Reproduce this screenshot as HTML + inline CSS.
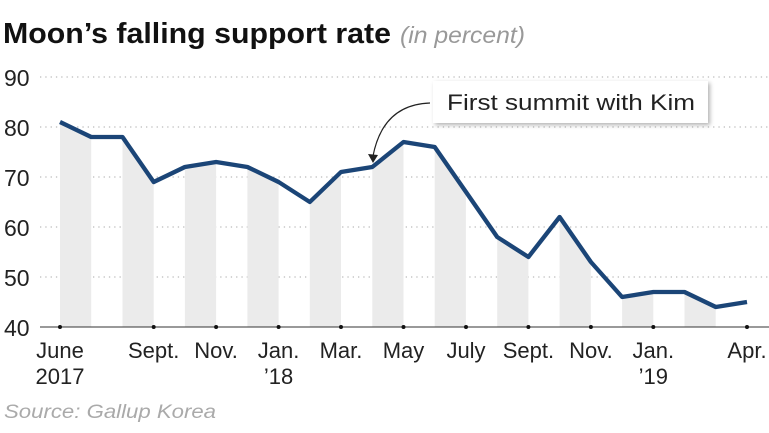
<!DOCTYPE html>
<html><head><style>
body{margin:0;background:#fff;}
svg{display:block;font-family:"Liberation Sans",sans-serif;}
</style></head><body>
<svg width="769" height="433" viewBox="0 0 769 433">
<defs>
<clipPath id="c">
<rect x="60" y="0" width="31.2" height="330"/><rect x="122.5" y="0" width="31.2" height="330"/>
<rect x="184.9" y="0" width="31.2" height="330"/><rect x="247.4" y="0" width="31.2" height="330"/>
<rect x="309.8" y="0" width="31.2" height="330"/><rect x="372.3" y="0" width="31.2" height="330"/>
<rect x="434.7" y="0" width="31.2" height="330"/><rect x="497.2" y="0" width="31.2" height="330"/>
<rect x="559.6" y="0" width="31.2" height="330"/><rect x="622.1" y="0" width="31.2" height="330"/>
<rect x="684.5" y="0" width="31.2" height="330"/>
</clipPath>
<filter id="sh" x="-10%" y="-20%" width="130%" height="160%"><feDropShadow dx="2" dy="2" stdDeviation="2" flood-color="#000" flood-opacity="0.3"/></filter>
</defs>
<text x="3" y="43" font-size="29" font-weight="bold" fill="#111" textLength="388" lengthAdjust="spacingAndGlyphs">Moon’s falling support rate</text>
<text x="400" y="43" font-size="23" font-style="italic" fill="#999" textLength="125" lengthAdjust="spacingAndGlyphs">(in percent)</text>
<g stroke="#bbb" stroke-width="1.3" stroke-dasharray="1.3 4">
<line x1="40" y1="77" x2="769" y2="77"/><line x1="40" y1="127" x2="769" y2="127"/>
<line x1="40" y1="177" x2="769" y2="177"/><line x1="40" y1="227" x2="769" y2="227"/>
<line x1="40" y1="277" x2="769" y2="277"/>
</g>
<g font-size="23" fill="#222">
<text x="4" y="86">90</text><text x="4" y="136">80</text><text x="4" y="186">70</text>
<text x="4" y="236">60</text><text x="4" y="286">50</text><text x="4" y="336">40</text>
</g>
<path clip-path="url(#c)" fill="#ebebeb" d="M60,122 L91.2,137 L122.5,137 L153.7,182 L184.9,167 L216.1,162 L247.4,167 L278.6,182 L309.8,202 L341,172 L372.3,167 L403.5,142 L434.7,147 L466,192 L497.2,237 L528.4,257 L559.6,217 L590.9,262 L622.1,297 L653.3,292 L684.5,292 L715.8,307 L747,302 L747,327 L60,327Z"/>
<line x1="40" y1="327" x2="769" y2="327" stroke="#333" stroke-width="1"/>
<g fill="#111">
<circle cx="60" cy="327" r="2"/><circle cx="153.7" cy="327" r="2"/><circle cx="216.1" cy="327" r="2"/>
<circle cx="278.6" cy="327" r="2"/><circle cx="341" cy="327" r="2"/><circle cx="403.5" cy="327" r="2"/>
<circle cx="466" cy="327" r="2"/><circle cx="528.4" cy="327" r="2"/><circle cx="590.9" cy="327" r="2"/>
<circle cx="653.3" cy="327" r="2"/><circle cx="747" cy="327" r="2"/>
</g>
<path fill="none" stroke="#1b4577" stroke-width="4.3" stroke-linejoin="round" d="M60,122 L91.2,137 L122.5,137 L153.7,182 L184.9,167 L216.1,162 L247.4,167 L278.6,182 L309.8,202 L341,172 L372.3,167 L403.5,142 L434.7,147 L466,192 L497.2,237 L528.4,257 L559.6,217 L590.9,262 L622.1,297 L653.3,292 L684.5,292 L715.8,307 L747,302"/>
<g font-size="22" fill="#222" text-anchor="middle">
<text x="60" y="358">June</text><text x="60" y="384">2017</text>
<text x="153.7" y="358">Sept.</text><text x="216.1" y="358">Nov.</text>
<text x="278.6" y="358">Jan.</text><text x="278.6" y="384">’18</text>
<text x="341" y="358">Mar.</text><text x="403.5" y="358">May</text>
<text x="466" y="358">July</text><text x="528.4" y="358">Sept.</text>
<text x="590.9" y="358">Nov.</text><text x="653.3" y="358">Jan.</text><text x="653.3" y="384">’19</text>
<text x="747" y="358">Apr.</text>
</g>
<rect x="433" y="81" width="275" height="42" fill="#fff" filter="url(#sh)"/>
<text x="447" y="110" font-size="22" fill="#222" textLength="248" lengthAdjust="spacingAndGlyphs">First summit with Kim</text>
<path d="M430,103 C400,104 380,120 373,156" fill="none" stroke="#222" stroke-width="1.2"/>
<path d="M368,154 L373,163 L378,155Z" fill="#222"/>
<text x="4" y="418" font-size="19" font-style="italic" fill="#aaa" textLength="212" lengthAdjust="spacingAndGlyphs">Source: Gallup Korea</text>
</svg>
</body></html>
